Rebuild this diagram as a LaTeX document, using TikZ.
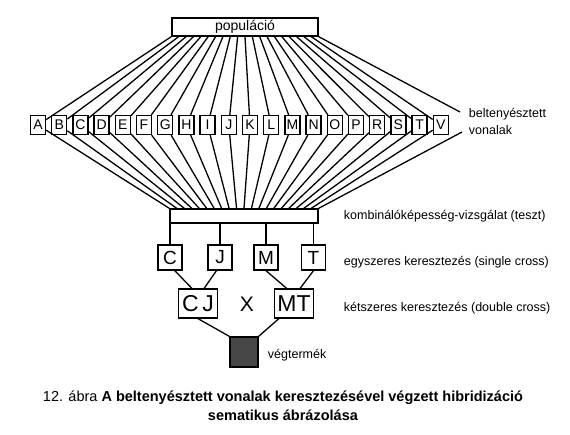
\documentclass[tikz,border=0pt]{standalone}
\usepackage{fontspec}
\setmainfont{Liberation Sans}
\usetikzlibrary{calc}
\begin{document}
\begin{tikzpicture}[x=1pt, y=-1pt, line width=1.3pt,
  box/.style={draw, fill=white, inner sep=0pt},
  linebox/.style={box, minimum width=15pt, minimum height=19pt, font=\fontsize{14}{14}\selectfont},
  singlebox/.style={box, minimum width=24pt, minimum height=25pt, font=\fontsize{19}{19}\selectfont},
  doublebox/.style={box, minimum width=39pt, minimum height=29pt, font=\fontsize{23}{23}\selectfont},
  note/.style={anchor=west, align=left, font=\fontsize{12.5}{17}\selectfont}]
\useasboundingbox (0,0) rectangle (570,434);
\node[box, minimum width=146pt, minimum height=18pt, font=\fontsize{14}{14}\selectfont] (pop) at (245,27) {populáció};
\node[box, minimum width=148pt, minimum height=14pt] (test) at (244,216) {};
% beltenyeszett vonalak
\node[linebox] (A) at (38,125) {A};
\node[linebox] (B) at (59.2,125) {B};
\node[linebox] (C) at (80.4,125) {C};
\node[linebox] (D) at (101.6,125) {D};
\node[linebox] (E) at (122.8,125) {E};
\node[linebox] (F) at (144,125) {F};
\node[linebox] (G) at (165.2,125) {G};
\node[linebox] (H) at (186.4,125) {H};
\node[linebox] (I) at (207.6,125) {I};
\node[linebox] (J) at (228.8,125) {J};
\node[linebox] (K) at (250,125) {K};
\node[linebox] (L) at (271.2,125) {L};
\node[linebox] (M) at (292.4,125) {M};
\node[linebox] (N) at (313.6,125) {N};
\node[linebox] (O) at (334.8,125) {O};
\node[linebox] (P) at (356,125) {P};
\node[linebox] (R) at (377.2,125) {R};
\node[linebox] (S) at (398.4,125) {S};
\node[linebox] (T) at (419.6,125) {T};
\node[linebox] (V) at (440.8,125) {V};
\draw ($(pop.south west)!0.00!(pop.south east)$) -- (A);
\draw ($(pop.south west)!0.05!(pop.south east)$) -- (B);
\draw ($(pop.south west)!0.10!(pop.south east)$) -- (C);
\draw ($(pop.south west)!0.15!(pop.south east)$) -- (D);
\draw ($(pop.south west)!0.20!(pop.south east)$) -- (E);
\draw ($(pop.south west)!0.25!(pop.south east)$) -- (F);
\draw ($(pop.south west)!0.30!(pop.south east)$) -- (G);
\draw ($(pop.south west)!0.35!(pop.south east)$) -- (H);
\draw ($(pop.south west)!0.40!(pop.south east)$) -- (I);
\draw ($(pop.south west)!0.45!(pop.south east)$) -- (J);
\draw ($(pop.south west)!0.50!(pop.south east)$) -- (K);
\draw ($(pop.south west)!0.55!(pop.south east)$) -- (L);
\draw ($(pop.south west)!0.60!(pop.south east)$) -- (M);
\draw ($(pop.south west)!0.65!(pop.south east)$) -- (N);
\draw ($(pop.south west)!0.70!(pop.south east)$) -- (O);
\draw ($(pop.south west)!0.75!(pop.south east)$) -- (P);
\draw ($(pop.south west)!0.80!(pop.south east)$) -- (R);
\draw ($(pop.south west)!0.85!(pop.south east)$) -- (S);
\draw ($(pop.south west)!0.90!(pop.south east)$) -- (T);
\draw ($(pop.south west)!0.95!(pop.south east)$) -- (V);
\draw (A) -- ($(test.north west)!0.00!(test.north east)$);
\draw (B) -- ($(test.north west)!0.05!(test.north east)$);
\draw (C) -- ($(test.north west)!0.10!(test.north east)$);
\draw (D) -- ($(test.north west)!0.15!(test.north east)$);
\draw (E) -- ($(test.north west)!0.20!(test.north east)$);
\draw (F) -- ($(test.north west)!0.25!(test.north east)$);
\draw (G) -- ($(test.north west)!0.30!(test.north east)$);
\draw (H) -- ($(test.north west)!0.35!(test.north east)$);
\draw (I) -- ($(test.north west)!0.40!(test.north east)$);
\draw (J) -- ($(test.north west)!0.45!(test.north east)$);
\draw (K) -- ($(test.north west)!0.50!(test.north east)$);
\draw (L) -- ($(test.north west)!0.55!(test.north east)$);
\draw (M) -- ($(test.north west)!0.60!(test.north east)$);
\draw (N) -- ($(test.north west)!0.65!(test.north east)$);
\draw (O) -- ($(test.north west)!0.70!(test.north east)$);
\draw (P) -- ($(test.north west)!0.75!(test.north east)$);
\draw (R) -- ($(test.north west)!0.80!(test.north east)$);
\draw (S) -- ($(test.north west)!0.85!(test.north east)$);
\draw (T) -- ($(test.north west)!0.90!(test.north east)$);
\draw (V) -- ($(test.north west)!0.95!(test.north east)$);
\node[note] (lines) at (465,121) {beltenyésztett\\vonalak};
\coordinate (lt) at (460,112);
\coordinate (lb) at (462,132);
\draw (pop.south east) -- (lt);
\draw (lb) -- (test.north east);
% keresztezesek
\node[singlebox] (sC) at (170,257.5) {C};
\node[singlebox] (sJ) at (220,257.5) {J};
\node[singlebox] (sM) at (266,257.5) {M};
\node[singlebox] (sT) at (313.5,257.5) {T};
\draw (sC |- test.south) -- (sC);
\draw (sJ |- test.south) -- (sJ);
\draw (sM |- test.south) -- (sM);
\draw (sT |- test.south) -- (sT);
\node[doublebox] (dCJ) at (198,303.5) {C\,J};
\node[doublebox] (dMT) at (294,303.5) {MT};
\node[font=\fontsize{21}{21}\selectfont] (x) at (247,304) {X};
\draw (sC.-70) -- (dCJ.112);
\draw (sJ.-105) -- (dCJ.68);
\draw (sM.south) -- (dMT.116);
\draw (sT.south) -- (dMT.68);
\node[box, fill=black!72, minimum width=28pt, minimum height=30pt] (end) at (244,352) {};
\draw (dCJ.south) -- (end.north west);
\draw (dMT.-135) -- (end.north east);
% feliratok
\node[note] (t1) at (340,216) {kombinálóképesség-vizsgálat (teszt)};
\node[note] (t2) at (340,262) {egyszeres keresztezés (single cross)};
\node[note] (t3) at (340,308) {kétszeres keresztezés (double cross)};
\node[note] (t4) at (264,355) {végtermék};
\node[align=center, font=\fontsize{14.5}{19}\selectfont] (cap) at (283,406) {12. ábra \textbf{A beltenyésztett vonalak keresztezésével végzett hibridizáció}\\\textbf{sematikus ábrázolása}};
\end{tikzpicture}
\end{document}
